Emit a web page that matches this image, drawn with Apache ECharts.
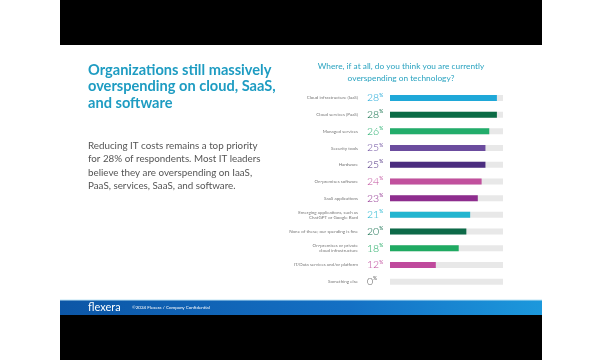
<!DOCTYPE html>
<html><head><meta charset="utf-8">
<script src="https://cdn.jsdelivr.net/npm/echarts@6/dist/echarts.min.js"></script>
<style>html,body{margin:0;padding:0;background:#fff}#c{width:600px;height:360px}</style>
</head><body><div id="c"></div>
<script>
const categories = [
  "Cloud infrastructure (IaaS)",
  "Cloud services (PaaS)",
  "Managed services",
  "Security tools",
  "Hardware",
  "On-premises software",
  "SaaS applications",
  "Emerging applications, such as\nChatGPT or Google Bard",
  "None of these; our spending is fine",
  "On-premises or private\ncloud infrastructure",
  "IT/Data services and/or platform",
  "Something else"
];
const values = [28, 28, 26, 25, 25, 24, 23, 21, 20, 18, 12, 0];
const palette = ["#1fa8d8","#0b6b45","#22ad6b","#6b4c9e","#4b2d7f","#c1509d","#8e2d8e","#22b5d0","#0d6a48","#1faa62","#bf4a9c","#555555"];

const chart = echarts.init(document.getElementById('c'), null, {renderer:'canvas'});
const rich = {};
palette.forEach((c,i)=>{
  rich['p'+i] = {fontSize:10.5, fontFamily:'Lato', color:c, fontWeight:300};
  rich['s'+i] = {fontSize:5, fontFamily:'Lato', color:c, verticalAlign:'top', padding:[0,0,5,0]};
});
chart.setOption({
  animation:false,
  grid:{left:390, width:113, top:89.6, height:200.4, containLabel:false},
  xAxis:{type:'value', min:0, max:29.6, show:false},
  yAxis:[
    {type:'category', data:categories, inverse:true, position:'left',
     axisLine:{show:false}, axisTick:{show:false}, splitLine:{show:false},
     axisLabel:{fontSize:4.5, color:'#777', fontFamily:'Lato', align:'right', margin:32, lineHeight:5.5}},
    {type:'category', data:categories, inverse:true, position:'left', offset:0,
     axisLine:{show:false}, axisTick:{show:false}, splitLine:{show:false},
     axisLabel:{align:'left', margin:23, rich:rich,
       formatter:(v,i)=>'{p'+i+'|'+values[i]+'}{s'+i+'|%}'}}
  ],
  series:[{
    type:'bar', yAxisIndex:0, barWidth:6,
    data: values.map((v,i)=>({value:v, itemStyle:{color:palette[i]}})),
    showBackground:true, backgroundStyle:{color:'#e8e8e8'}
  }],
  graphic:[
    {type:'rect', z:-10, shape:{x:60,y:0,width:482,height:45}, style:{fill:'#000'}},
    {type:'rect', z:-10, shape:{x:60,y:315,width:482,height:45}, style:{fill:'#000'}},
    {type:'rect', z:-10, shape:{x:60,y:300,width:482,height:15},
      style:{fill:new echarts.graphic.LinearGradient(0,0,1,0,[{offset:0,color:'#0c56a6'},{offset:0.6,color:'#1470c4'},{offset:1,color:'#1c98dc'}])}},
    {type:'rect', z:-9, shape:{x:60,y:299.5,width:482,height:1}, style:{fill:'#bfe6f5'}},
    {type:'text', left:88, top:302, style:{text:'flexera', fill:'#fff', font:'11px Lato'}},
    {type:'text', left:132, top:305.5, style:{text:'©2024 Flexera / Company Confidential', fill:'#fff', font:'4.5px Lato'}},
    {type:'text', left:88, top:61.5, style:{text:'Organizations still massively\noverspending on cloud, SaaS,\nand software', fill:'#1e9cc2', font:'bold 14.6px Lato', lineHeight:16.7}},
    {type:'text', left:88, top:139, style:{text:'Reducing IT costs remains a top priority\nfor 28% of respondents. Most IT leaders\nbelieve they are overspending on IaaS,\nPaaS, services, SaaS, and software.', fill:'#555', font:'9.8px Lato', lineHeight:13.5}},
    {type:'text', x:401, y:61, style:{text:'Where, if at all, do you think you are currently\noverspending on technology?', fill:'#2aa3c0', font:'8.3px Lato', align:'center', lineHeight:11.5}}
  ]
});
</script></body></html>
